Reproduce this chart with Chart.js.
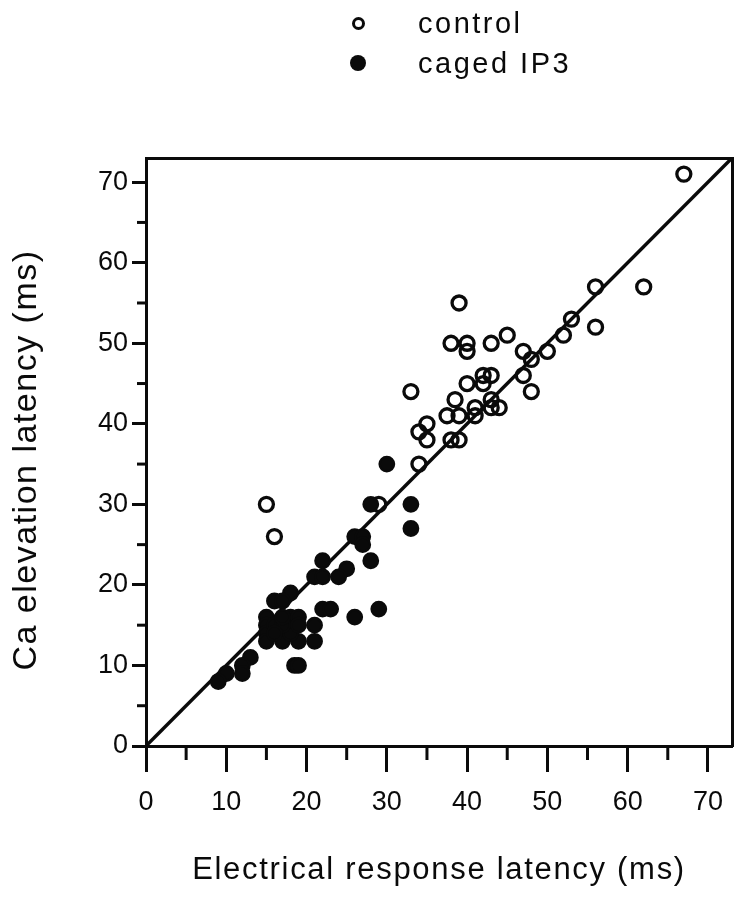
<!DOCTYPE html>
<html>
<head>
<meta charset="utf-8">
<title>Ca elevation vs electrical response latency</title>
<script src="https://cdn.jsdelivr.net/npm/chart.js@4.4.0/dist/chart.umd.min.js"></script>
<style>
  html, body { margin: 0; padding: 0; background: #fff; }
  #wrap { position: relative; width: 744px; height: 899px; }
  #legend { position: absolute; left: 0; top: 0; font-family: 'Liberation Sans', Arial, sans-serif; color: #0a0a0a; }
  #legend .mark { position: absolute; border-radius: 50%; box-sizing: border-box; }
  #legend .txt { position: absolute; font-size: 29px; line-height: 34px; letter-spacing: 2.5px; white-space: nowrap; }
</style>
</head>
<body>
<div id="wrap">
  <canvas id="latencyChart" width="744" height="899"></canvas>
  <div id="legend"></div>
</div>
<script>
// values (ms)
const controlX = [67, 56, 62, 39, 53, 56, 52, 45, 38, 40, 40, 43, 47, 50, 48, 47, 48, 42, 43, 40, 42, 33, 38.5, 41, 43, 43, 44, 37.5, 39, 41, 35, 34, 35, 38, 39, 34, 15, 16, 29];
const controlY = [71, 57, 57, 55, 53, 52, 51, 51, 50, 50, 49, 50, 49, 49, 48, 46, 44, 46, 46, 45, 45, 44, 43, 42, 43, 42, 42, 41, 41, 41, 40, 39, 38, 38, 38, 35, 30, 26, 30];

const cagedX = [30, 28, 33, 33, 26, 27, 27, 28, 22, 25, 24, 21, 22, 18, 16, 17, 22, 23, 26, 29, 15, 15, 15, 15, 17, 19, 21, 21, 18, 18, 19, 19, 16, 17, 16, 17, 18.5, 19, 13, 12, 12, 10, 9];
const cagedY = [35, 30, 30, 27, 26, 26, 25, 23, 23, 22, 21, 21, 21, 19, 18, 18, 17, 17, 16, 17, 16, 15, 14, 13, 13, 13, 13, 15, 16, 14, 16, 15, 15, 15, 14, 16, 10, 10, 11, 10, 9, 9, 8];

const unityLine = [0, 73];   // line of identity, x = y
const axisMin = 0;
const axisMax = 73;
const tickStep = 5;
const labelStep = 10;

const ink = '#0a0a0a';
const fontFamily = "'Liberation Sans', Arial, Helvetica, sans-serif";

const toPoints = (xs, ys) => xs.map((x, i) => ({ x: x, y: ys[i] }));

// short marks at the 5s, long ones (the library's own) at the 10s
const minorTicks = {
  id: 'minorTicks',
  afterDraw(chart, args, opts) {
    const ctx = chart.ctx;
    const xs = chart.scales.x, ys = chart.scales.y;
    ctx.save();
    ctx.strokeStyle = ink;
    ctx.lineWidth = 3;
    xs.ticks.forEach(t => {
      if (t.value % labelStep === 0) return;
      const px = xs.getPixelForValue(t.value);
      ctx.beginPath();
      ctx.moveTo(px, xs.top);
      ctx.lineTo(px, xs.top + opts.xLen);
      ctx.stroke();
    });
    ys.ticks.forEach(t => {
      if (t.value % labelStep === 0) return;
      const py = ys.getPixelForValue(t.value);
      ctx.beginPath();
      ctx.moveTo(ys.right, py);
      ctx.lineTo(ys.right - opts.yLen, py);
      ctx.stroke();
    });
    ctx.restore();
  }
};

// axis titles in the original are set a little loose
const looseTitles = {
  id: 'looseTitles',
  afterLayout(chart, args, opts) {
    ['x', 'y'].forEach(id => {
      const s = chart.scales[id];
      if (!s || s._loose) return;
      const orig = s.drawTitle;
      s.drawTitle = function() {
        this.ctx.save();
        this.ctx.letterSpacing = opts[id].spacing;
        this.ctx.translate(0, opts[id].shift);
        orig.call(this);
        this.ctx.restore();
      };
      s._loose = true;
    });
  }
};

const majorTickColor = c => (c.tick && c.tick.value % labelStep === 0) ? ink : 'rgba(0,0,0,0)';
const stepTicks = s => {
  s.ticks = [];
  for (let v = axisMin; v <= axisMax; v += tickStep) s.ticks.push({ value: v });
};
const frameAxis = pos => ({
  type: 'linear', position: pos, min: axisMin, max: axisMax,
  ticks: { display: false },
  grid: { display: false, drawTicks: false },
  border: { display: true, width: 3, color: ink },
  afterFit: s => { if (s.isHorizontal()) s.height = 0; else s.width = 0; }
});

const ctx = document.getElementById('latencyChart').getContext('2d');
const chart = new Chart(ctx, {
  type: 'scatter',
  data: {
    datasets: [
      {
        label: 'control',
        data: toPoints(controlX, controlY),
        pointStyle: 'circle',
        pointRadius: 7,
        pointBorderWidth: 3.3,
        pointBackgroundColor: 'rgba(0,0,0,0)',
        pointBorderColor: ink,
        order: 1
      },
      {
        label: 'caged IP3',
        data: toPoints(cagedX, cagedY),
        pointStyle: 'circle',
        pointRadius: 7.2,
        pointBorderWidth: 2.4,
        pointBackgroundColor: ink,
        pointBorderColor: ink,
        order: 0
      },
      {
        label: 'unity',
        data: toPoints(unityLine, unityLine),
        showLine: true,
        borderColor: ink,
        borderWidth: 3.4,
        pointRadius: 0,
        order: 2
      }
    ]
  },
  options: {
    responsive: false,
    animation: false,
    layout: { padding: { left: 0, top: 158, right: 12, bottom: 0 } },
    plugins: {
      legend: { display: false },
      tooltip: { enabled: false },
      minorTicks: { xLen: 14, yLen: 9 },
      looseTitles: { x: { spacing: '1.7px', shift: 0 }, y: { spacing: '1.5px', shift: 8 } }
    },
    scales: {
      x: {
        type: 'linear', position: 'bottom', min: axisMin, max: axisMax,
        afterBuildTicks: stepTicks,
        ticks: {
          autoSkip: false, maxRotation: 0, padding: 14, color: ink,
          font: { family: fontFamily, size: 27 },
          callback: v => (v % labelStep === 0 ? v : '')
        },
        grid: { drawOnChartArea: false, drawTicks: true, tickLength: 26, tickWidth: 3, tickColor: majorTickColor },
        border: { display: true, width: 3, color: ink },
        title: {
          display: true, text: 'Electrical response latency (ms)', color: ink,
          font: { family: fontFamily, size: 31 }, padding: { top: 0, bottom: 10 }
        },
        afterFit: s => { s.height = 153; }
      },
      y: {
        type: 'linear', position: 'left', min: axisMin, max: axisMax,
        afterBuildTicks: stepTicks,
        ticks: {
          autoSkip: false, padding: 4, color: ink,
          font: { family: fontFamily, size: 27 },
          callback: v => (v % labelStep === 0 ? v : '')
        },
        grid: { drawOnChartArea: false, drawTicks: true, tickLength: 14, tickWidth: 3, tickColor: majorTickColor },
        border: { display: true, width: 3, color: ink },
        title: {
          display: true, text: 'Ca elevation latency (ms)', color: ink,
          font: { family: fontFamily, size: 34 }, padding: { top: 6, bottom: 0 }
        },
        afterFit: s => { s.width = 146; }
      },
      xTop: frameAxis('top'),
      yRight: frameAxis('right')
    }
  },
  plugins: [minorTicks, looseTitles]
});
// first paint happened before the title patch, so paint once more
chart.update();

// legend built from the two marker datasets
const legend = document.getElementById('legend');
chart.data.datasets.filter(d => d.pointRadius > 0).forEach((d, i) => {
  const cy = 23 + 40 * i;
  const filled = d.pointBackgroundColor !== 'rgba(0,0,0,0)';
  const r = filled ? 8 : 6.5;
  const mark = document.createElement('span');
  mark.className = 'mark';
  mark.style.left = (358 - r) + 'px';
  mark.style.top = (cy - r) + 'px';
  mark.style.width = mark.style.height = (2 * r) + 'px';
  mark.style.background = filled ? ink : 'transparent';
  mark.style.border = (filled ? 0 : 3) + 'px solid ' + ink;
  const txt = document.createElement('div');
  txt.className = 'txt';
  txt.style.left = '418px';
  txt.style.top = (cy - 17) + 'px';
  txt.textContent = d.label;
  legend.appendChild(mark);
  legend.appendChild(txt);
});
</script>
</body>
</html>
